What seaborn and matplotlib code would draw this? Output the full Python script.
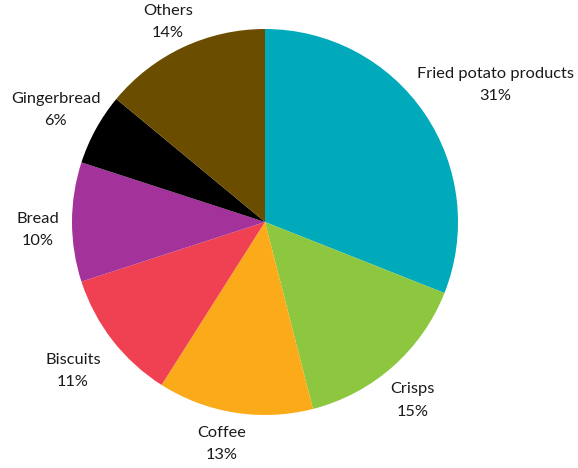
import numpy as np
import matplotlib
matplotlib.use("Agg")
import matplotlib.pyplot as plt
import seaborn as sns

categories = ["Fried potato products", "Crisps", "Coffee", "Biscuits",
              "Bread", "Gingerbread", "Others"]
shares = [31, 15, 13, 11, 10, 6, 14]
colors = ["#00aabb", "#8dc63f", "#fbab1a", "#ef4152", "#a3339b",
          "#000000", "#6b4d00"]

# label placement: radial factor and small angular nudge (degrees, clockwise)
label_radius = [1.39, 1.20, 1.17, 1.26, 1.18, 1.23, 1.15]
label_nudge = [3.5, 1.8, 2.0, 0.0, -2.0, -0.7, -0.7]

sns.set_theme(style="white")
plt.rcParams["font.family"] = ["Lato", "DejaVu Sans"]

W, H = 578, 468
fig = plt.figure(figsize=(W / 100, H / 100), dpi=100)
ax = fig.add_axes([0, 0, 1, 1])

cx, cy, R = 265, H - 222, 193
wedges, _ = ax.pie(shares, colors=colors, startangle=90, counterclock=False,
                   center=(cx, cy), radius=R, frame=True,
                   wedgeprops=dict(linewidth=0))
ax.set_xlim(0, W)
ax.set_ylim(0, H)
ax.axis("off")

total = sum(shares)
cum = 0
for name, val, rf, nd in zip(categories, shares, label_radius, label_nudge):
    mid = (cum + val / 2) / total * 360 + nd  # clockwise from 12 o'clock
    cum += val
    a = np.deg2rad(mid)
    x = cx + R * rf * np.sin(a)
    y = cy + R * rf * np.cos(a)
    ax.text(x, y, f"{name}\n{val}%", ha="center", va="center",
            fontsize=11.8, color="#1a1a1a", linespacing=1.75)

fig.savefig("out.png", dpi=100)
